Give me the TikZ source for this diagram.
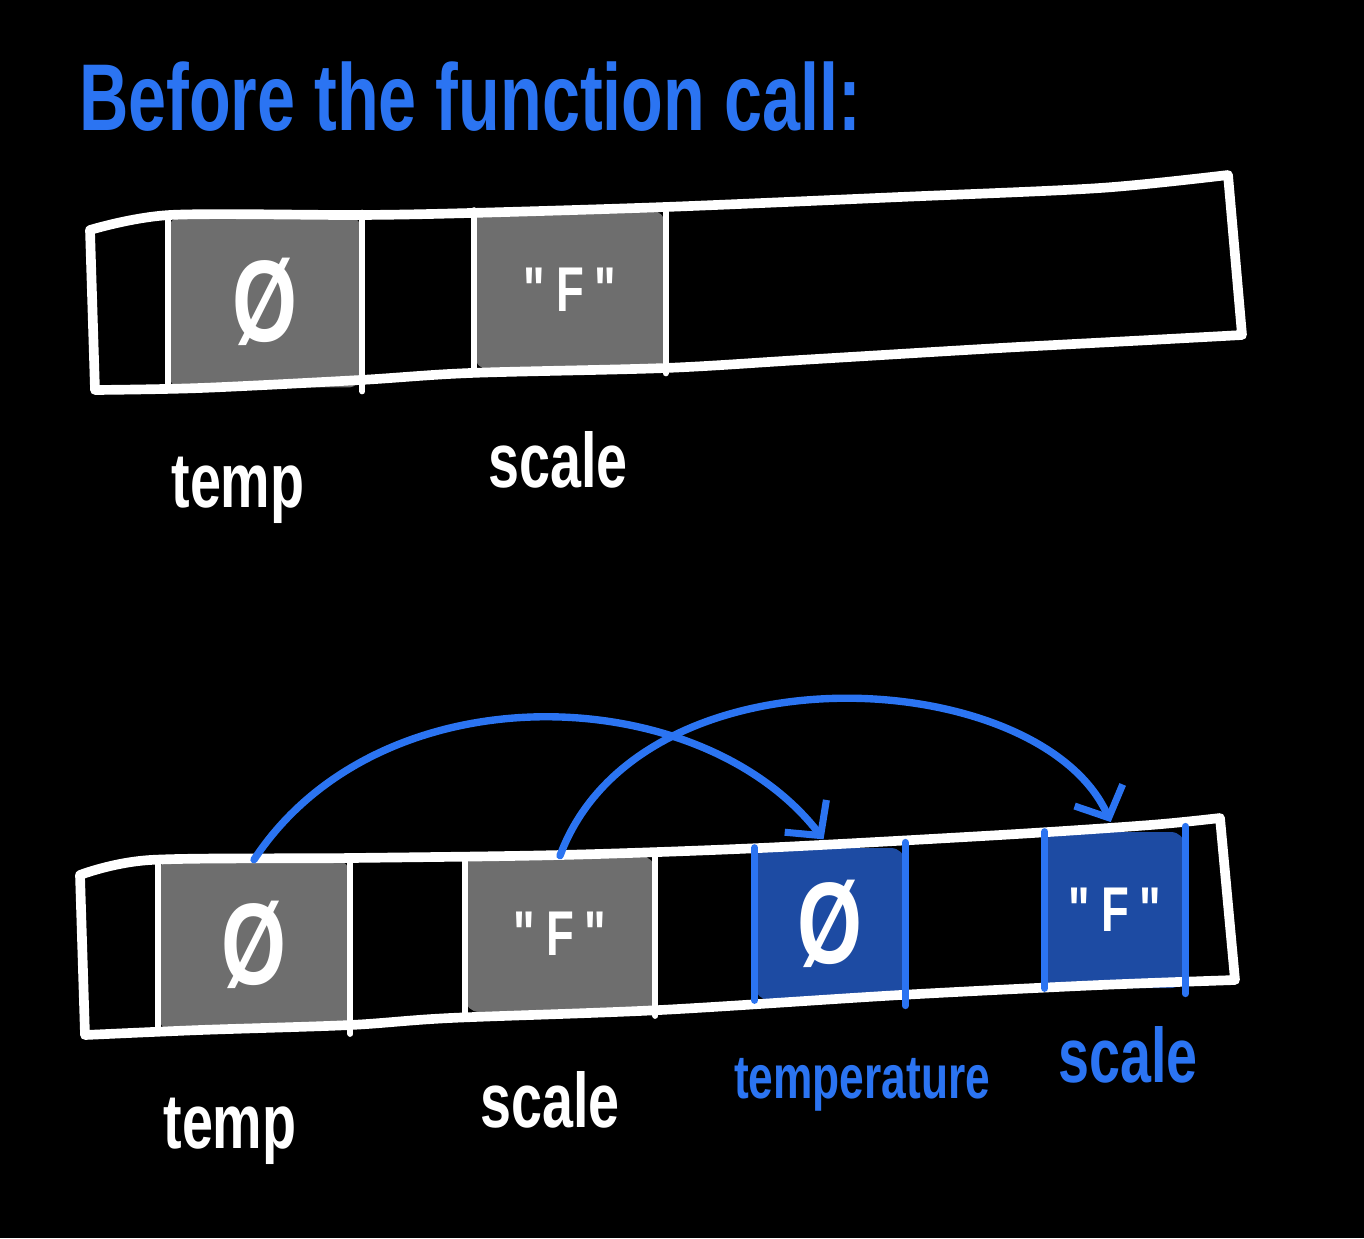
\documentclass[tikz,border=0pt]{standalone}
\usepackage{fontspec}
\newfontfamily\handfont[FakeStretch=0.72]{Liberation Sans}
\usetikzlibrary{arrows.meta}
\definecolor{penblue}{HTML}{2B74F2}
\definecolor{cellblue}{HTML}{1D4BA3}
\definecolor{cellgray}{HTML}{6E6E6E}

\tikzset{
	strip/.style={white, line width=5.5pt, line join=round, line cap=round},
	wall/.style={white, line width=3.4pt, line cap=round, shorten <=-2pt, shorten >=-2pt},
	bluewall/.style={penblue, line width=4pt, line cap=round, shorten <=-3pt, shorten >=-3pt},
	cell/.style={rectangle, rounded corners=8pt, fill=cellgray, inner sep=0pt, text=white},
	newcell/.style={cell, fill=cellblue},
	nullval/.style={font=\handfont\bfseries\fontsize{66}{66}\selectfont},
	strval/.style={font=\handfont\bfseries\fontsize{36}{36}\selectfont},
	hand/.style={font=\handfont\bfseries\fontsize{44}{44}\selectfont, text=white, inner sep=0pt},
	jump/.style={penblue, line width=4.2pt, line cap=round, shorten >=6pt,
		-{Straight Barb[length=14pt, width=30pt, line width=4pt]}}
}

\begin{document}
\begin{tikzpicture}[x=0.02cm, y=-0.02cm]
	\fill[black] (0,0) rectangle (1364,1238);
	\useasboundingbox (0,0) rectangle (1364,1238);
	
	\node[hand, text=penblue, font=\handfont\bfseries\fontsize{54}{54}\selectfont] (heading) at (470,97) {Before the function call:};
	
	% before the call
	\node[cell, nullval, minimum width=3.88cm, minimum height=3.42cm] (tempA) at (265,302) {Ø};
	\node[cell, strval, minimum width=3.82cm, minimum height=3.18cm] (scaleA) at (570,290) {"\,F\,"};
	\draw[strip] plot[smooth] coordinates {(90,230) (170,215) (360,215) (470,213) (665,207) (900,197) (1100,188) (1228,175)}
		-- plot[smooth] coordinates {(1242,335) (1150,340) (1000,348) (800,360) (665,368) (470,373) (360,380) (200,388) (95,390)} -- cycle;
	\foreach \c in {tempA, scaleA}
		\draw[wall] (\c.north west) -- (\c.south west) (\c.north east) -- (\c.south east);
	\node[hand] (tempLabelA) at (238,490) {temp};
	\node[hand] (scaleLabelA) at (558,460) {scale};
	
	% after the call
	\node[cell, nullval, minimum width=3.84cm, minimum height=3.4cm] (tempB) at (254,945) {Ø};
	\node[cell, strval, minimum width=3.8cm, minimum height=3.12cm] (scaleB) at (560,934) {"\,F\,"};
	\node[newcell, nullval, minimum width=3.0cm, minimum height=3.04cm] (tempC) at (830,924) {Ø};
	\node[newcell, strval, minimum width=2.8cm, minimum height=3.12cm] (scaleC) at (1115,910) {"\,F\,"};
	\draw[strip] plot[smooth] coordinates {(80,875) (150,860) (350,858) (560,855) (760,848) (1000,835) (1150,825) (1220,818)}
		-- plot[smooth] coordinates {(1235,980) (1100,985) (900,995) (660,1010) (450,1018) (350,1025) (200,1030) (85,1035)} -- cycle;
	\foreach \c in {tempB, scaleB}
		\draw[wall] (\c.north west) -- (\c.south west) (\c.north east) -- (\c.south east);
	\foreach \c in {tempC, scaleC}
		\draw[bluewall] (\c.north west) -- (\c.south west) (\c.north east) -- (\c.south east);
	\node[hand] (tempLabelB) at (230,1131) {temp};
	\node[hand] (scaleLabelB) at (550,1100) {scale};
	\node[hand, text=penblue, font=\handfont\bfseries\fontsize{35}{35}\selectfont] (tempLabelC) at (862,1085) {temperature};
	\node[hand, text=penblue] (scaleLabelC) at (1128,1055) {scale};
	
	\draw[jump] (tempB.north) .. controls +(126,-192) and +(-130,-168) .. (tempC.north);
	\draw[jump] (scaleB.north) .. controls +(80,-215) and +(-75,-167) .. (scaleC.north);
\end{tikzpicture}
\end{document}
